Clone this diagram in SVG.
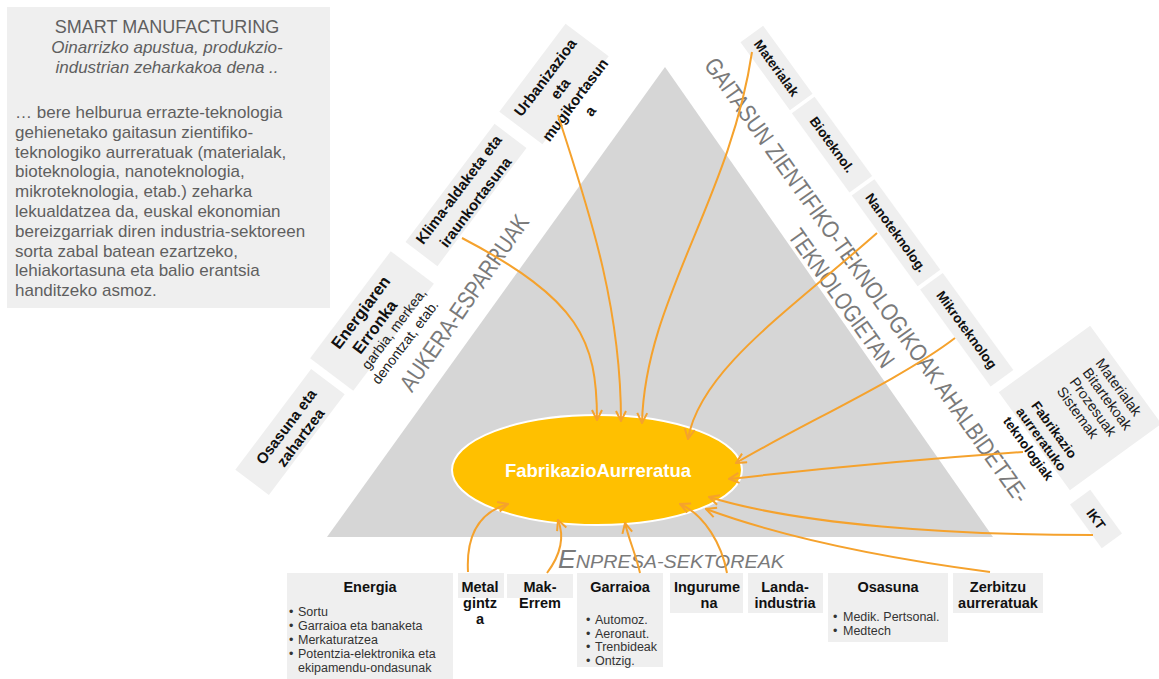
<svg xmlns="http://www.w3.org/2000/svg" width="1159" height="679" viewBox="0 0 1159 679">
<style>
.box{fill:#efefef}
.lb{font-family:"Liberation Sans",Arial,sans-serif;font-weight:bold;fill:#111;text-anchor:middle}
.lr{font-family:"Liberation Sans",Arial,sans-serif;fill:#222}
.big{font-family:"Liberation Sans",Arial,sans-serif;font-size:24px;fill:#7a7a7a;text-anchor:middle}
.intro{font-family:"Liberation Sans",Arial,sans-serif;fill:#5f5f5f}
.con{fill:none;stroke:#F5A22D;stroke-width:2;marker-end:url(#ah)}
.bul{font-family:"Liberation Sans",Arial,sans-serif;font-size:12.5px;fill:#333}
</style>
<defs>
<marker id="ah" viewBox="0 0 12 12" refX="11" refY="6" markerWidth="12" markerHeight="12" markerUnits="userSpaceOnUse" orient="auto">
<path d="M1,1 L11,6 L1,11" fill="none" stroke="#F5A22D" stroke-width="2"/>
</marker>
</defs>
<rect width="1159" height="679" fill="#ffffff"/>

<g id="intro">
<rect class="box" x="7" y="7" width="323" height="301"/>
<text class="intro" x="167" y="33" font-size="18" text-anchor="middle">SMART MANUFACTURING</text>
<text class="intro" x="167" y="53" font-size="17" font-style="italic" text-anchor="middle">Oinarrizko apustua, produkzio-</text>
<text class="intro" x="167" y="73" font-size="17" font-style="italic" text-anchor="middle">industrian zeharkakoa dena ..</text>
<text class="intro" font-size="17">
<tspan x="15" y="118">… bere helburua errazte-teknologia</tspan>
<tspan x="15" y="137.8">gehienetako gaitasun zientifiko-</tspan>
<tspan x="15" y="157.6">teknologiko aurreratuak (materialak,</tspan>
<tspan x="15" y="177.4">bioteknologia, nanoteknologia,</tspan>
<tspan x="15" y="197.2">mikroteknologia, etab.) zeharka</tspan>
<tspan x="15" y="217">lekualdatzea da, euskal ekonomian</tspan>
<tspan x="15" y="236.8">bereizgarriak diren industria-sektoreen</tspan>
<tspan x="15" y="256.6">sorta zabal batean ezartzeko,</tspan>
<tspan x="15" y="276.4">lehiakortasuna eta balio erantsia</tspan>
<tspan x="15" y="296.2">handitzeko asmoz.</tspan>
</text>
</g>

<g id="triangle">
<polygon points="665,67 327,537 993,537" fill="#d6d6d6"/>
</g>

<g id="big-labels">
<g transform="translate(471,307.5) rotate(-55.5)">
<text class="big" x="0" y="0" textLength="208" lengthAdjust="spacingAndGlyphs">AUKERA-ESPARRUAK</text>
</g>
<g transform="translate(860,285) rotate(54.5)">
<text class="big" x="0" y="0" textLength="540" lengthAdjust="spacingAndGlyphs">GAITASUN ZIENTIFIKO-TEKNOLOGIKOAK AHALBIDETZE-</text>
<text class="big" x="0" y="31" textLength="164" lengthAdjust="spacingAndGlyphs">TEKNOLOGIETAN</text>
</g>
<text x="558" y="568" font-family="Liberation Sans, Arial, sans-serif" font-style="italic" fill="#7a7a7a" textLength="226" lengthAdjust="spacingAndGlyphs"><tspan font-size="25">E</tspan><tspan font-size="18.5">NPRESA-SEKTOREAK</tspan></text>
</g>

<g id="osasuna-zahartzea" transform="translate(290,432) rotate(-53)">
<rect class="box" x="-63" y="-21" width="126" height="42"/>
<text class="lb" font-size="15"><tspan x="2" y="-1">Osasuna eta</tspan><tspan x="2" y="17">zahartzea</tspan></text>
</g>
<g id="energiaren-erronka" transform="translate(372,321) rotate(-53)">
<rect class="box" x="-67" y="-27" width="134" height="54"/>
<text class="lb" font-size="16.5"><tspan x="0" y="-8.5">Energiaren</tspan><tspan x="-3" y="11.5">Erronka</tspan></text>
<text class="lr" font-size="14" text-anchor="middle"><tspan x="7" y="27">garbia, merkea,</tspan><tspan x="3" y="44">denontzat, etab.</tspan></text>
</g>
<g id="klima-aldaketa" transform="translate(466,195) rotate(-53)">
<rect class="box" x="-74" y="-20" width="148" height="40"/>
<text class="lb" font-size="15"><tspan x="0" y="-4">Klima-aldaketa eta</tspan><tspan x="0" y="17">iraunkortasuna</tspan></text>
</g>
<g id="urbanizazioa" transform="translate(554,84) rotate(-53)">
<rect class="box" x="-55" y="-27" width="110" height="54"/>
<text class="lb" font-size="15"><tspan x="0" y="-5.7">Urbanizazioa</tspan><tspan x="0" y="13">eta</tspan><tspan x="0" y="31.6">mugikortasun</tspan><tspan x="0" y="50.3">a</tspan></text>
</g>

<g id="materialak" transform="translate(776.5,68) rotate(54)">
<rect class="box" x="-42" y="-14" width="84" height="28"/>
<text class="lb" font-size="13.5" x="0" y="4.7">Materialak</text>
</g>
<g id="bioteknol" transform="translate(832,144.6) rotate(54)">
<rect class="box" x="-49" y="-14" width="98" height="28"/>
<text class="lb" font-size="13.5" x="0" y="4.7">Bioteknol.</text>
</g>
<g id="nanoteknolog" transform="translate(896,232.7) rotate(54)">
<rect class="box" x="-56" y="-14" width="112" height="28"/>
<text class="lb" font-size="13.5" x="0" y="4.7">Nanoteknolog.</text>
</g>
<g id="mikroteknolog" transform="translate(966.7,329.8) rotate(54)">
<rect class="box" x="-60" y="-14" width="120" height="28"/>
<text class="lb" font-size="13.5" x="0" y="4.7">Mikroteknolog</text>
</g>
<g id="fabrikazio-teknologiak" transform="translate(1080,408) rotate(54)">
<rect class="box" x="-60.5" y="-56.5" width="121" height="113"/>
<text class="lr" font-size="14.5"><tspan x="-27.5" y="-38.5">Materialak</tspan><tspan x="-27.5" y="-22.5">Bitartekoak</tspan><tspan x="-27.5" y="-6.5">Prozesuak</tspan><tspan x="-27.5" y="9.5">Sistemak</tspan></text>
<text class="lb" font-size="13.5"><tspan x="2.5" y="38.3">Fabrikazio</tspan><tspan x="2.5" y="54.3">aurreratuko</tspan><tspan x="2.5" y="70.3">teknologiak</tspan></text>
</g>
<g id="ikt" transform="translate(1096,519) rotate(54)">
<rect class="box" x="-27" y="-12.5" width="54" height="25"/>
<text class="lb" font-size="13.5" x="0" y="4.7">IKT</text>
</g>

<g id="energia">
<rect class="box" x="287" y="573" width="166" height="106"/>
<text class="lb" font-size="14.5" x="370" y="592">Energia</text>
<text class="bul"><tspan x="289" y="616">•</tspan><tspan x="298" y="616">Sortu</tspan><tspan x="289" y="630">•</tspan><tspan x="298" y="630">Garraioa eta banaketa</tspan><tspan x="289" y="644">•</tspan><tspan x="298" y="644">Merkaturatzea</tspan><tspan x="289" y="658">•</tspan><tspan x="298" y="658">Potentzia-elektronika eta</tspan><tspan x="298" y="672">ekipamendu-ondasunak</tspan></text>
</g>
<g id="metalgintza">
<rect class="box" x="458" y="573" width="46" height="25"/>
<text class="lb" font-size="14.5"><tspan x="480" y="592">Metal</tspan><tspan x="480" y="608">gintz</tspan><tspan x="480" y="624">a</tspan></text>
</g>
<g id="mak-errem">
<rect class="box" x="507" y="574" width="66" height="24"/>
<text class="lb" font-size="14.5"><tspan x="540" y="592">Mak-</tspan><tspan x="540" y="608">Errem</tspan></text>
</g>
<g id="garraioa">
<rect class="box" x="577" y="573" width="86" height="94"/>
<text class="lb" font-size="14.5" x="620" y="592">Garraioa</text>
<text class="bul"><tspan x="586" y="624">•</tspan><tspan x="595" y="624">Automoz.</tspan><tspan x="586" y="637.5">•</tspan><tspan x="595" y="637.5">Aeronaut.</tspan><tspan x="586" y="651">•</tspan><tspan x="595" y="651">Trenbideak</tspan><tspan x="586" y="664.5">•</tspan><tspan x="595" y="664.5">Ontzig.</tspan></text>
</g>
<g id="ingurumena">
<rect class="box" x="670" y="573" width="73" height="40"/>
<text class="lb" font-size="14.5"><tspan x="707" y="592">Ingurume</tspan><tspan x="709" y="608">na</tspan></text>
</g>
<g id="landa-industria">
<rect class="box" x="748" y="573" width="75" height="40"/>
<text class="lb" font-size="14.5"><tspan x="785" y="592">Landa-</tspan><tspan x="785" y="608">industria</tspan></text>
</g>
<g id="osasuna">
<rect class="box" x="828" y="573" width="120" height="69"/>
<text class="lb" font-size="14.5" x="888" y="592">Osasuna</text>
<text class="bul"><tspan x="833" y="621">•</tspan><tspan x="843" y="621">Medik. Pertsonal.</tspan><tspan x="833" y="635">•</tspan><tspan x="843" y="635">Medtech</tspan></text>
</g>
<g id="zerbitzu-aurreratuak">
<rect class="box" x="953" y="573" width="90" height="40"/>
<text class="lb" font-size="14.5"><tspan x="998" y="592">Zerbitzu</tspan><tspan x="998" y="608">aurreratuak</tspan></text>
</g>

<g id="fabrikazio-aurreratua">
<ellipse cx="597" cy="470" rx="145" ry="55" fill="#FFC000" stroke="#ffffff" stroke-width="2"/>
<text class="lb" font-size="18.5" style="fill:#ffffff" x="598" y="477">FabrikazioAurreratua</text>
</g>

<g id="connectors">
<path class="con" d="M462,238 C580,300 597,340 597,420"/>
<path class="con" d="M558,115 C585,200 621,300 621,421"/>
<path class="con" d="M752,52 C730,200 645,300 642,423"/>
<path class="con" d="M877,233 C790,310 700,370 688,439"/>
<path class="con" d="M955,338 C900,380 800,425 736,463"/>
<path class="con" d="M1023,452 Q880,462 729,479"/>
<path class="con" d="M1093,535 C950,535 800,525 709,497"/>
<path class="con" d="M990,572 C900,560 790,540 706,509"/>
<path class="con" d="M727,573 C722,545 705,515 680,504"/>
<path class="con" d="M640,573 C636,555 629,540 625,523"/>
<path class="con" d="M547,573 Q568,545 558,520"/>
<path class="con" d="M468,572 C466,535 480,512 508,504"/>
</g>
</svg>
